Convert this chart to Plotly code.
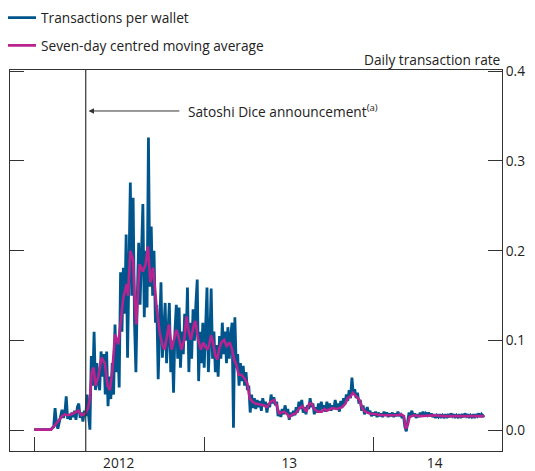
import pandas as pd
import plotly.graph_objects as go

# ---------------- data ----------------
series_start = "2012-01-01"
blue_step_days = 3
# Transactions per wallet, one value every 3 days from 1 Jan 2012
tx_per_wallet = [
    0.001, 0.001, 0.001, 0.001, 0.001, 0.001, 0.001, 0.001, 0.001, 0.001,
    0.001, 0.001, 0.001, 0.003, 0.004, 0.025, 0.008, 0.002, 0.010, 0.016,
    0.023, 0.014, 0.019, 0.038, 0.013, 0.018, 0.012, 0.020, 0.015, 0.022,
    0.012, 0.026, 0.030, 0.014, 0.020, 0.010, 0.022, 0.016, 0.040, 0.018,
    0.001, 0.083, 0.050, 0.110, 0.045, 0.075, 0.052, 0.045, 0.088, 0.060,
    0.085, 0.040, 0.088, 0.027, 0.060, 0.035, 0.075, 0.040, 0.118, 0.065,
    0.100, 0.048, 0.176, 0.110, 0.181, 0.130, 0.218, 0.081, 0.160, 0.276,
    0.150, 0.259, 0.120, 0.065, 0.150, 0.209, 0.140, 0.190, 0.252, 0.126,
    0.200, 0.137, 0.326, 0.160, 0.227, 0.150, 0.200, 0.120, 0.140, 0.057,
    0.130, 0.165, 0.081, 0.110, 0.142, 0.075, 0.120, 0.142, 0.065, 0.100,
    0.042, 0.110, 0.140, 0.080, 0.137, 0.070, 0.110, 0.085, 0.130, 0.100,
    0.159, 0.065, 0.120, 0.080, 0.135, 0.100, 0.140, 0.168, 0.055, 0.110,
    0.075, 0.120, 0.070, 0.115, 0.159, 0.065, 0.100, 0.158, 0.080, 0.110,
    0.065, 0.095, 0.060, 0.105, 0.080, 0.120, 0.085, 0.110, 0.075, 0.115,
    0.080, 0.105, 0.120, 0.003, 0.126, 0.070, 0.085, 0.050, 0.075, 0.055,
    0.072, 0.050, 0.065, 0.045, 0.050, 0.020, 0.040, 0.025, 0.036, 0.024,
    0.034, 0.026, 0.033, 0.022, 0.036, 0.028, 0.032, 0.020, 0.030, 0.026,
    0.040, 0.030, 0.037, 0.028, 0.032, 0.016, 0.022, 0.015, 0.024, 0.018,
    0.028, 0.020, 0.024, 0.012, 0.020, 0.016, 0.022, 0.017, 0.026, 0.020,
    0.032, 0.024, 0.034, 0.020, 0.026, 0.018, 0.028, 0.024, 0.036, 0.026,
    0.030, 0.018, 0.026, 0.020, 0.030, 0.022, 0.032, 0.024, 0.028, 0.021,
    0.032, 0.024, 0.030, 0.022, 0.028, 0.024, 0.034, 0.025, 0.030, 0.021,
    0.033, 0.026, 0.036, 0.030, 0.040, 0.033, 0.045, 0.036, 0.059, 0.040,
    0.046, 0.036, 0.042, 0.030, 0.034, 0.022, 0.028, 0.018, 0.022, 0.026,
    0.019, 0.022, 0.016, 0.020, 0.017, 0.021, 0.015, 0.020, 0.016, 0.019,
    0.015, 0.021, 0.017, 0.020, 0.015, 0.019, 0.016, 0.020, 0.015, 0.019,
    0.016, 0.021, 0.017, 0.018, 0.014, 0.016, 0.004, -0.001, 0.010, 0.020,
    0.017, 0.022, 0.016, 0.019, 0.014, 0.018, 0.015, 0.020, 0.017, 0.021,
    0.016, 0.019, 0.017, 0.020, 0.016, 0.019, 0.015, 0.018, 0.014, 0.017,
    0.015, 0.018, 0.014, 0.017, 0.015, 0.018, 0.014, 0.017, 0.015, 0.019,
    0.016, 0.018, 0.014, 0.017, 0.015, 0.018, 0.014, 0.017, 0.015, 0.019,
    0.016, 0.018, 0.014, 0.017, 0.015, 0.018, 0.014, 0.018, 0.016, 0.019,
    0.015, 0.018, 0.016, 0.017,
]

# Seven-day centred moving average, read at irregular days after 1 Jan 2012
ma_days = [
    0, 36, 42, 48, 54, 60, 66, 72, 80, 88, 95, 102, 110, 116, 120, 124, 128,
    132, 138, 145, 152, 158, 163, 168, 174, 181, 187, 192, 199, 202, 207, 213,
    217, 220, 224, 227, 234, 240, 245, 250, 256, 263, 270, 276, 281, 290, 296,
    306, 310, 317, 323, 328, 333, 337, 344, 347, 353, 359, 364, 367, 373, 376,
    381, 385, 390, 394, 398, 403, 409, 414, 421, 426, 431, 436, 440, 446, 453,
    459, 464, 470, 476, 487, 494, 501, 509, 516, 522, 527, 533, 538, 545, 549,
    556, 563, 571, 578, 586, 592, 597, 603, 610, 619, 625, 630, 641, 652, 663,
    670, 675, 681, 686, 692, 700, 707, 713, 722, 736, 751, 766, 780, 790, 796,
    800, 804, 808, 817, 832, 850, 861, 880, 898, 915, 934, 950, 969,
]
ma_values = [
    0.001, 0.001, 0.004, 0.008, 0.012, 0.016, 0.018, 0.017, 0.018, 0.020, 0.022,
    0.017, 0.019, 0.025, 0.035, 0.065, 0.070, 0.050, 0.060, 0.081, 0.075, 0.050,
    0.045, 0.065, 0.107, 0.096, 0.125, 0.148, 0.163, 0.150, 0.200, 0.190, 0.140,
    0.118, 0.160, 0.185, 0.177, 0.185, 0.205, 0.165, 0.181, 0.140, 0.110, 0.095,
    0.090, 0.118, 0.090, 0.112, 0.106, 0.090, 0.101, 0.127, 0.109, 0.101, 0.118,
    0.122, 0.101, 0.090, 0.098, 0.094, 0.090, 0.094, 0.106, 0.098, 0.083, 0.079,
    0.090, 0.098, 0.101, 0.094, 0.098, 0.090, 0.078, 0.072, 0.062, 0.062, 0.058,
    0.052, 0.036, 0.032, 0.030, 0.029, 0.028, 0.026, 0.032, 0.034, 0.028, 0.019,
    0.020, 0.021, 0.018, 0.015, 0.018, 0.019, 0.025, 0.027, 0.021, 0.030, 0.030,
    0.024, 0.021, 0.021, 0.024, 0.022, 0.025, 0.024, 0.026, 0.030, 0.036, 0.038,
    0.042, 0.039, 0.034, 0.024, 0.021, 0.019, 0.018, 0.017, 0.017, 0.017, 0.018,
    0.016, 0.002, 0.006, 0.015, 0.017, 0.016, 0.017, 0.017, 0.016, 0.016, 0.016,
    0.016, 0.016, 0.016,
]

year_ticks = ["2012-01-01", "2013-01-01", "2014-01-01"]
year_label_pos = ["2012-07-01", "2013-07-03", "2014-05-12"]
year_labels = ["2012", "13", "14"]
y_ticks = [0.0, 0.1, 0.2, 0.3, 0.4]

announcement_date = "2012-04-21"
announcement_text = "Satoshi Dice announcement<sup>(a)</sup>"

# ---------------- figure ----------------
blue_dates = pd.date_range(series_start, periods=len(tx_per_wallet),
                           freq=f"{blue_step_days}D")
ma_dates = pd.Timestamp(series_start) + pd.to_timedelta(ma_days, unit="D")

BLUE = "#00568c"
PINK = "#b8238f"
AXIS = "#333333"
TEXT = "#222222"
FONT = "Open Sans"
FS = 13.7

fig = go.Figure()
fig.add_trace(go.Scatter(
    x=blue_dates, y=tx_per_wallet, mode="lines",
    name="Transactions per wallet", legendgroup="a",
    line=dict(color=BLUE, width=2.8), hoverinfo="skip"))
fig.add_trace(go.Scatter(
    x=ma_dates, y=ma_values, mode="lines",
    name="Seven-day centred moving average", legendgroup="b",
    line=dict(color=PINK, width=2.6), hoverinfo="skip"))

fig.add_shape(type="line", xref="x", yref="paper",
              x0=announcement_date, x1=announcement_date, y0=0, y1=1,
              line=dict(color=AXIS, width=1.2))

arrow_y = 0.3556
fig.add_annotation(x="2012-04-27", y=arrow_y, ax="2012-11-16", ay=arrow_y,
                   xref="x", yref="y", axref="x", ayref="y", text=" ",
                   showarrow=True, arrowhead=2, arrowsize=1.1, arrowwidth=1,
                   arrowcolor=AXIS)
fig.add_annotation(x="2012-11-23", y=arrow_y, xref="x", yref="y",
                   xanchor="left", yanchor="middle", text=announcement_text,
                   showarrow=False, font=dict(size=FS, color=TEXT, family=FONT))

fig.add_annotation(x=1, y=1, xref="paper", yref="paper", xanchor="right",
                   yanchor="bottom", yshift=-1, text="Daily transaction rate",
                   showarrow=False, font=dict(size=FS, color=TEXT, family=FONT))

# The page body has an 8px default margin, so the figure is sized 8px smaller
fig.update_layout(
    width=527, height=463,
    margin=dict(l=2, r=33, t=62, b=20, autoexpand=False),
    paper_bgcolor="white", plot_bgcolor="white",
    font=dict(family=FONT, size=FS, color=TEXT),
    showlegend=True,
    legend=dict(x=-0.0183, y=1.178, xanchor="left", yanchor="top",
                traceorder="grouped", tracegroupgap=7, itemwidth=30,
                bgcolor="rgba(0,0,0,0)", font=dict(size=FS, family=FONT)),
    xaxis=dict(
        type="date", range=["2011-11-10", "2014-10-04"],
        showgrid=False, zeroline=False, automargin=False,
        showline=True, linecolor=AXIS, linewidth=1, mirror=True,
        tickmode="array", tickvals=year_label_pos, ticktext=year_labels,
        ticks="", tickfont=dict(size=FS),
        minor=dict(tickmode="array", tickvals=year_ticks, ticks="inside",
                   ticklen=14, tickcolor=AXIS, tickwidth=1, showgrid=False),
    ),
    yaxis=dict(
        side="right", range=[-0.0228, 0.4012], automargin=False,
        showgrid=False, zeroline=False,
        showline=True, linecolor=AXIS, linewidth=1, mirror="ticks",
        tickmode="array", tickvals=y_ticks, tickformat=".1f",
        ticks="inside", ticklen=14, tickcolor=AXIS, tickwidth=1,
        tickfont=dict(size=FS),
    ),
)

fig.write_html("out.html")
